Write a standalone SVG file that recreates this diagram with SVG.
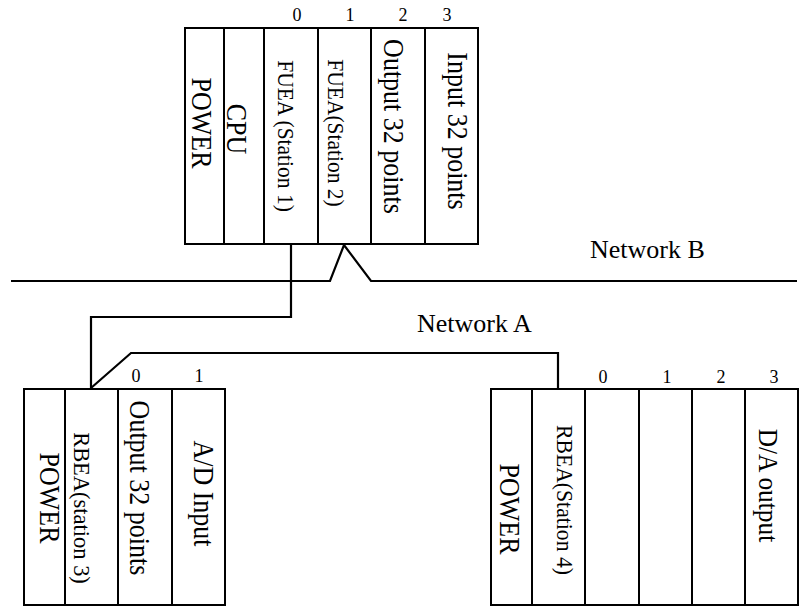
<svg xmlns="http://www.w3.org/2000/svg" width="803" height="608" viewBox="0 0 803 608">
<style>
  .box{fill:#fff;stroke:#000;stroke-width:2}
  .div{stroke:#000;stroke-width:2}
  .wire{fill:none;stroke:#000;stroke-width:2.2;stroke-linejoin:miter}
  text{font-family:"Liberation Serif","Times New Roman",serif;fill:#000}
  .lg{font-size:26px;text-anchor:middle}
  .sm{font-size:21.5px;text-anchor:middle}
  .num{font-size:18px;text-anchor:middle}
  .net{font-size:26px}
</style>
<rect width="803" height="608" fill="#fff"/>

<g id="connectors">
  <polyline class="wire" points="11,281 330,281 344,245 371,281 797,281"/>
  <polyline class="wire" points="291,244 291,317 91,317 91,388"/>
  <polyline class="wire" points="91,388 131,353 558,353 558,389"/>
  <text class="net" x="590" y="258">Network B</text>
  <text class="net" x="417" y="332">Network A</text>
</g>

<g id="main-rack">
  <rect class="box" x="185" y="28" width="293" height="216"/>
  <g id="m-power"><text class="lg" transform="translate(192,123) rotate(90) scale(1,1.1)">POWER</text></g>
  <g id="m-cpu"><line class="div" x1="224" y1="28" x2="224" y2="244"/><text class="lg" transform="translate(227,129) rotate(90) scale(1,1.1)">CPU</text></g>
  <g id="m-fuea1"><line class="div" x1="264" y1="28" x2="264" y2="244"/><text class="sm" transform="translate(278,136) rotate(90) scale(1,1.05)">FUEA (Station 1)</text><text class="num" x="297" y="21">0</text></g>
  <g id="m-fuea2"><line class="div" x1="318" y1="28" x2="318" y2="244"/><text class="sm" transform="translate(328,133) rotate(90) scale(1,1.05)">FUEA(Station 2)</text><text class="num" x="350" y="21">1</text></g>
  <g id="m-out32"><line class="div" x1="371" y1="28" x2="371" y2="244"/><text class="lg" transform="translate(384,126.5) rotate(90) scale(1,1.1)">Output 32 points</text><text class="num" x="403" y="21">2</text></g>
  <g id="m-in32"><line class="div" x1="425" y1="28" x2="425" y2="244"/><text class="lg" transform="translate(448,131) rotate(90) scale(1,1.1)">Input 32 points</text><text class="num" x="447" y="21">3</text></g>
</g>

<g id="station3-rack">
  <rect class="box" x="24" y="389" width="201" height="216"/>
  <g id="s3-power"><text class="lg" transform="translate(40,498) rotate(90) scale(1,1.12)">POWER</text></g>
  <g id="s3-rbea"><line class="div" x1="65" y1="389" x2="65" y2="605"/><text class="sm" transform="translate(74,508) rotate(90) scale(1,1.05)" style="font-size:22.5px">RBEA(station 3)</text></g>
  <g id="s3-out32"><line class="div" x1="118" y1="389" x2="118" y2="605"/><text class="lg" transform="translate(130,488) rotate(90) scale(1,1.1)">Output 32 points</text><text class="num" x="136" y="382">0</text></g>
  <g id="s3-ad"><line class="div" x1="172" y1="389" x2="172" y2="605"/><text class="lg" transform="translate(194,493.5) rotate(90) scale(1,1.1)">A/D Input</text><text class="num" x="199" y="382">1</text></g>
</g>

<g id="station4-rack">
  <rect class="box" x="491" y="389" width="307" height="216"/>
  <g id="s4-power"><text class="lg" transform="translate(500,509) rotate(90) scale(1,1.12)">POWER</text></g>
  <g id="s4-rbea"><line class="div" x1="532" y1="389" x2="532" y2="605"/><text class="sm" transform="translate(557,500) rotate(90) scale(1,1.05)" style="font-size:21.7px">RBEA(Station 4)</text></g>
  <g id="s4-slot0"><line class="div" x1="585" y1="389" x2="585" y2="605"/><text class="num" x="603" y="383">0</text></g>
  <g id="s4-slot1"><line class="div" x1="639" y1="389" x2="639" y2="605"/><text class="num" x="667" y="383">1</text></g>
  <g id="s4-slot2"><line class="div" x1="692" y1="389" x2="692" y2="605"/><text class="num" x="721" y="383">2</text></g>
  <g id="s4-da"><line class="div" x1="745" y1="389" x2="745" y2="605"/><text class="lg" transform="translate(759,485.5) rotate(90) scale(1,1.1)" style="font-size:25.4px">D/A output</text><text class="num" x="774" y="383">3</text></g>
</g>
</svg>
